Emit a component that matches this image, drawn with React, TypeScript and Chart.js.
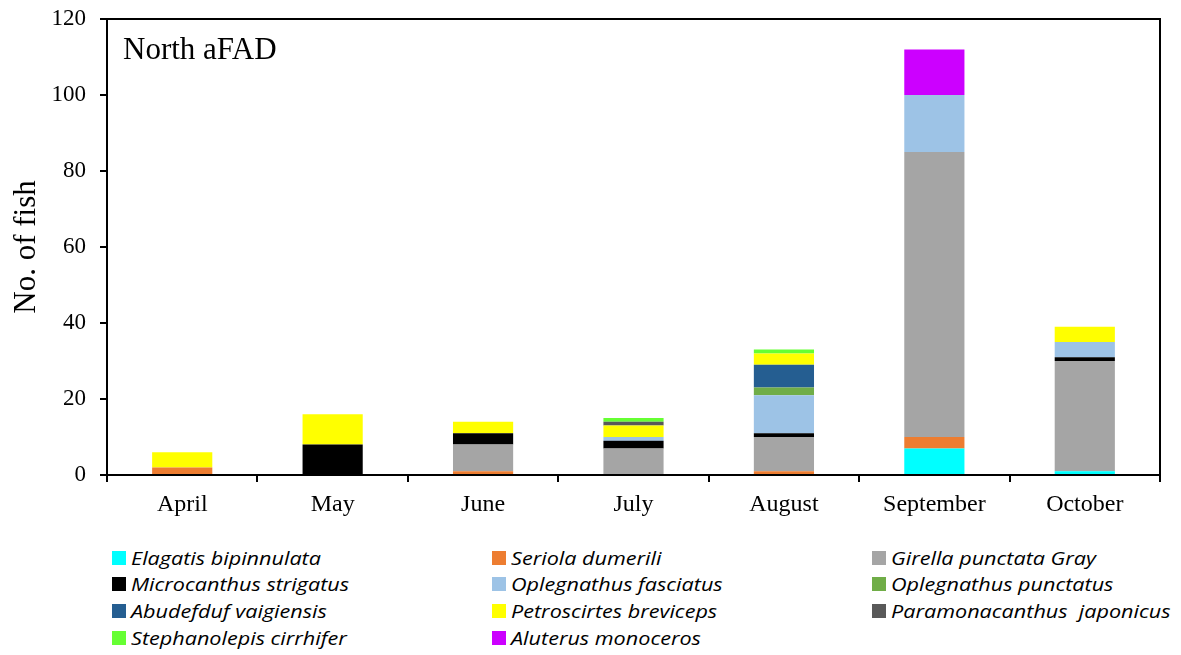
import React, { useEffect, useRef } from "react";
import { Chart, registerables } from "chart.js";

Chart.register(...registerables);

const months = ["April", "May", "June", "July", "August", "September", "October"];
const yTicks = [0, 20, 40, 60, 80, 100, 120];

const elagatis = [0, 0, 0, 0, 0, 7, 1];
const seriola = [2, 0, 1, 0, 1, 3, 0];
const girella = [0, 0, 7, 7, 9, 75, 29];
const microcanthus = [0, 8, 3, 2, 1, 0, 1];
const oplFasciatus = [0, 0, 0, 1, 10, 15, 4];
const oplPunctatus = [0, 0, 0, 0, 2, 0, 0];
const abudefduf = [0, 0, 0, 0, 6, 0, 0];
const petroscirtes = [4, 8, 3, 3, 3, 0, 4];
const paramonacanthus = [0, 0, 0, 1, 0, 0, 0];
const stephanolepis = [0, 0, 0, 1, 1, 0, 0];
const aluterus = [0, 0, 0, 0, 0, 12, 0];

const seriesNames = [
  "Elagatis bipinnulata",
  "Seriola dumerili",
  "Girella punctata Gray",
  "Microcanthus strigatus",
  "Oplegnathus fasciatus",
  "Oplegnathus punctatus",
  "Abudefduf vaigiensis",
  "Petroscirtes breviceps",
  "Paramonacanthus  japonicus",
  "Stephanolepis cirrhifer",
  "Aluterus monoceros",
];
const seriesValues = [
  elagatis, seriola, girella, microcanthus, oplFasciatus, oplPunctatus,
  abudefduf, petroscirtes, paramonacanthus, stephanolepis, aluterus,
];
const seriesColors = [
  "#00FFFF", "#ED7D31", "#A5A5A5", "#000000", "#9DC3E6", "#70AD47",
  "#255E91", "#FFFF00", "#595959", "#66FF33", "#CC00FF",
];

const framePlugin = {
  id: "frameAndLabel",
  afterDraw(chart: any) {
    const { ctx, chartArea } = chart;
    ctx.save();
    ctx.strokeStyle = "#000";
    ctx.lineWidth = 2;
    ctx.beginPath();
    ctx.moveTo(chartArea.left, chartArea.top);
    ctx.lineTo(chartArea.right, chartArea.top);
    ctx.lineTo(chartArea.right, chartArea.bottom);
    ctx.stroke();
    ctx.fillStyle = "#000";
    ctx.font = "31px 'Liberation Serif', 'Times New Roman', serif";
    ctx.textBaseline = "alphabetic";
    ctx.textAlign = "left";
    ctx.fillText("North aFAD", chartArea.left + 16, chartArea.top + 40);
    ctx.restore();
  },
};

export default function App() {
  const ref = useRef<HTMLCanvasElement>(null);
  useEffect(() => {
    if (!ref.current) return;
    const chart = new Chart(ref.current, {
      type: "bar",
      data: {
        labels: months,
        datasets: seriesNames.map((n, i) => ({
          label: n,
          data: seriesValues[i],
          backgroundColor: seriesColors[i],
          borderWidth: 0,
          barPercentage: 0.4,
          categoryPercentage: 1.0,
        })),
      },
      options: {
        animation: false,
        responsive: false,
        maintainAspectRatio: false,
        layout: { padding: { left: 0, top: 19, right: 21, bottom: 0 } },
        plugins: { legend: { display: false }, tooltip: { enabled: false } },
        scales: {
          x: {
            stacked: true,
            afterFit: (s: any) => { s.height = 55; s.paddingLeft = 0; s.paddingRight = 0; },
            border: { display: true, color: "#000", width: 2 },
            grid: { display: true, drawOnChartArea: false, drawTicks: true, tickLength: 7, color: "#000", lineWidth: 2, offset: true },
            ticks: { color: "#000", padding: 8, font: { family: "'Liberation Serif', 'Times New Roman', serif", size: 24 } },
          },
          y: {
            stacked: true,
            min: 0,
            max: 120,
            afterFit: (s: any) => { s.width = 107; s.paddingTop = 0; s.paddingBottom = 0; },
            afterBuildTicks: (s: any) => { s.ticks = yTicks.map((v) => ({ value: v })); },
            border: { display: true, color: "#000", width: 2 },
            grid: { display: true, drawOnChartArea: false, drawTicks: true, tickLength: 7, color: "#000", lineWidth: 2 },
            ticks: { color: "#000", padding: 14, font: { family: "'Liberation Serif', 'Times New Roman', serif", size: 23 } },
            title: {
              display: true,
              text: "No. of fish",
              color: "#000",
              padding: { top: 8, bottom: 0 },
              font: { family: "'Liberation Serif', 'Times New Roman', serif", size: 31 },
            },
          },
        },
      },
      plugins: [framePlugin],
    });
    return () => chart.destroy();
  }, []);

  const colLeft = [112, 492, 872];
  const rowTop = [558, 584, 611, 638];

  return (
    <div style={{ position: "absolute", left: 0, top: 0, width: 1181, height: 655, background: "#fff" }}>
      <canvas ref={ref} width={1181} height={530} style={{ position: "absolute", left: 0, top: 0 }} />
      {seriesNames.map((n, i) => {
        const col = i % 3;
        const row = Math.floor(i / 3);
        return (
          <div
            key={n}
            style={{
              position: "absolute",
              left: colLeft[col],
              top: rowTop[row] - 11,
              height: 22,
              display: "flex",
              alignItems: "center",
              whiteSpace: "pre",
            }}
          >
            <div style={{ width: 14, height: 14, background: seriesColors[i], marginRight: 5 }} />
            <span
              style={{
                fontFamily: "'Open Sans', sans-serif",
                fontStyle: "italic",
                fontSize: 18,
                color: "#000",
                display: "inline-block",
                transform: "scaleX(1.2)",
                transformOrigin: "left center",
              }}
            >
              {n}
            </span>
          </div>
        );
      })}
    </div>
  );
}
